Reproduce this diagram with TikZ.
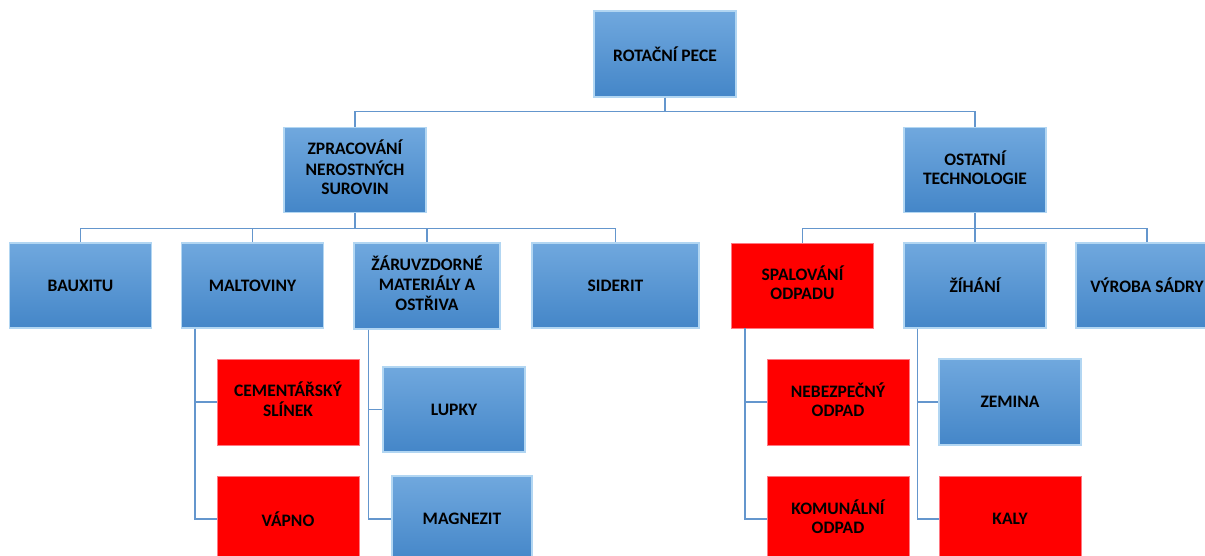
\documentclass[tikz,border=0pt]{standalone}
\usepackage{fontspec}
\setmainfont{Carlito}
\usepackage{xcolor}
\usepackage{tikz}
\usetikzlibrary{positioning}
\definecolor{boxtop}{RGB}{112,168,222}
\definecolor{boxbottom}{RGB}{68,134,200}
\definecolor{boxedge}{RGB}{178,214,242}
\definecolor{redbox}{RGB}{255,0,0}
\definecolor{rededge}{RGB}{255,120,130}
\definecolor{link}{RGB}{100,150,205}
\tikzset{
    box/.style={rectangle, minimum width=142pt, minimum height=86pt, text centered, align=center, inner sep=2pt,
        font=\bfseries\fontsize{17.5}{19}\selectfont},
    bluebox/.style={box, top color=boxtop, bottom color=boxbottom, draw=boxedge, line width=1.1pt},
    redbox/.style={box, fill=redbox, draw=rededge, line width=0.8pt},
    tree/.style={draw=link, line width=1.5pt}
}

\begin{document}
\begin{tikzpicture}[x=1pt, y=-1pt]
    \useasboundingbox (0,0) rectangle (1205,555);
    \clip (0,0) rectangle (1205,555);
    % Top Level
    \node[bluebox] (rotacni_pece) at (665,54) {ROTAČNÍ PECE};
    % Second Level
    \node[bluebox, minimum height=85pt] (zpracovani) at (355,170) {\begin{tabular}{c}ZPRACOVÁNÍ\\NEROSTNÝCH\\SUROVIN\end{tabular}};
    \node[bluebox, minimum height=85pt] (ostatni) at (975,170) {\begin{tabular}{c}OSTATNÍ\\TECHNOLOGIE\end{tabular}};
    % Third Level
    \node[bluebox, minimum height=85pt] (bauxitu) at (80.5,285.5) {BAUXITU};
    \node[bluebox, minimum height=85pt] (maltoviny) at (252.5,285.5) {MALTOVINY};
    \node[bluebox, minimum width=146pt] (zaruvzdorne) at (427,286) {\begin{tabular}{c}ŽÁRUVZDORNÉ\\MATERIÁLY A\\OSTŘIVA\end{tabular}};
    \node[bluebox, minimum width=167pt, minimum height=85pt] (siderit) at (615.5,285.5) {SIDERIT};
    \node[redbox, minimum height=85pt] (spalovani) at (802.5,285.5) {\begin{tabular}{c}SPALOVÁNÍ\\ODPADU\end{tabular}};
    \node[bluebox, minimum height=85pt] (zihani) at (975,285.5) {ŽÍHÁNÍ};
    \node[bluebox, minimum height=85pt] (vyroba_sadry) at (1147,285.5) {VÝROBA SÁDRY};
    % Fourth Level
    \node[redbox] (slinek) at (288,402) {\begin{tabular}{c}CEMENTÁŘSKÝ\\SLÍNEK\end{tabular}};
    \node[redbox] (vapno) at (288,519) {VÁPNO};
    \node[bluebox, minimum height=85pt] (lupky) at (454,409.5) {LUPKY};
    \node[bluebox, minimum width=140pt] (magnezit) at (462,519) {MAGNEZIT};
    \node[redbox] (nebezpecny) at (838,402) {\begin{tabular}{c}NEBEZPEČNÝ\\ODPAD\end{tabular}};
    \node[redbox] (komunalni) at (838,519) {\begin{tabular}{c}KOMUNÁLNÍ\\ODPAD\end{tabular}};
    \node[bluebox] (zemina) at (1010,402) {ZEMINA};
    \node[redbox] (kaly) at (1010,519) {KALY};

    % Links
    \draw[tree] (rotacni_pece.south) -- ++(0,14) -| (zpracovani.north);
    \draw[tree] (rotacni_pece.south) -- ++(0,14) -| (ostatni.north);

    \draw[tree] (zpracovani.south) -- ++(0,15.5) -| (bauxitu.north);
    \draw[tree] (zpracovani.south) -- ++(0,15.5) -| (maltoviny.north);
    \draw[tree] (zpracovani.south) -- ++(0,15.5) -| (zaruvzdorne.north);
    \draw[tree] (zpracovani.south) -- ++(0,15.5) -| (siderit.north);

    \draw[tree] (ostatni.south) -- ++(0,15.5) -| (spalovani.north);
    \draw[tree] (ostatni.south) -- ++(0,15.5) -| (zihani.north);
    \draw[tree] (ostatni.south) -- ++(0,15.5) -| (vyroba_sadry.north);

    \draw[tree] (maltoviny.south west) ++(14,0) |- (slinek.west);
    \draw[tree] (maltoviny.south west) ++(14,0) |- (vapno.west);
    \draw[tree] (zaruvzdorne.south west) ++(15,0) |- (lupky.west);
    \draw[tree] (zaruvzdorne.south west) ++(15,0) |- (magnezit.west);
    \draw[tree] (spalovani.south west) ++(14,0) |- (nebezpecny.west);
    \draw[tree] (spalovani.south west) ++(14,0) |- (komunalni.west);
    \draw[tree] (zihani.south west) ++(14,0) |- (zemina.west);
    \draw[tree] (zihani.south west) ++(14,0) |- (kaly.west);
\end{tikzpicture}
\end{document}
